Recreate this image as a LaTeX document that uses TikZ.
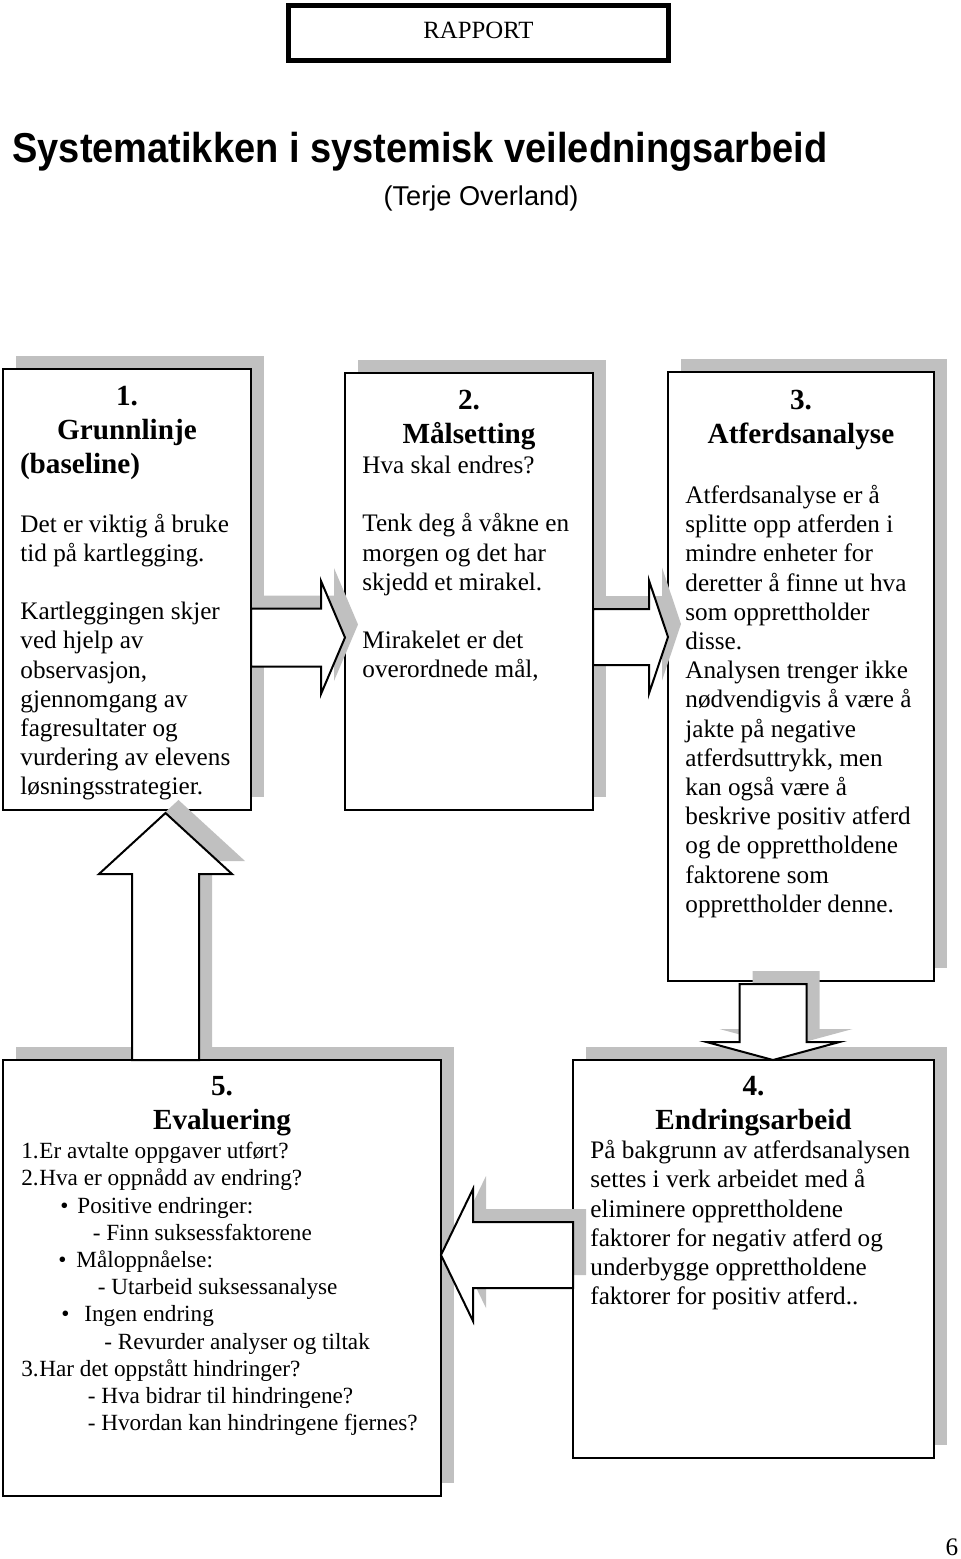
\documentclass[tikz,border=0pt]{standalone}
\usepackage{fontspec}
\usepackage{graphicx}
\setmainfont{Liberation Serif}
\newfontfamily\arialfont{Liberation Sans}
\usetikzlibrary{calc,shadows}

\definecolor{shadowgray}{RGB}{192,192,192}

\tikzset{
  shadowed/.style={drop shadow={shadow xshift=6.5pt, shadow yshift=6.5pt, opacity=1, fill=shadowgray}},
  stagebox/.style={draw, fill=white, line width=1pt, inner sep=0pt, outer sep=0pt, anchor=north west, shadowed},
  blockarrow/.style={draw, fill=white, line width=1pt, shadowed},
  heading/.style={font=\fontsize{14.6}{17}\selectfont\bfseries, align=center, inner sep=0pt, anchor=north},
  bodytext/.style={font=\fontsize{12.6}{14.6}\selectfont, align=left, inner sep=0pt, anchor=north west},
}

\begin{document}
\begin{tikzpicture}[x=0.5pt, y=-0.5pt]
  \useasboundingbox (0,0) rectangle (960,1559);

  \node[draw, line width=2.5pt, minimum width=190pt, minimum height=27.5pt, inner sep=0pt, text height=8.4pt, text depth=3pt, font=\fontsize{12.4}{15}\selectfont] (rapport) at (478.5,33) {RAPPORT};
  \node[font=\arialfont\bfseries\fontsize{19}{22}\selectfont, anchor=base west, inner sep=0pt] (title) at (12,162) {\scalebox{1}[1.1]{Systematikken i systemisk veiledningsarbeid}};
  \node[font=\arialfont\fontsize{13.6}{16}\selectfont, inner sep=0pt] (author) at (481,198) {(Terje Overland)};

  \node[stagebox, minimum width=124pt, minimum height=220.5pt] (grunnlinje) at (3,369) {};
  \node[stagebox, minimum width=124pt, minimum height=218.5pt] (malsetting) at (345,373) {};
  \node[stagebox, minimum width=133pt, minimum height=304.5pt] (atferd) at (668,372) {};
  \node[stagebox, minimum width=180.5pt, minimum height=199pt] (endring) at (573,1060) {};
  \node[stagebox, minimum width=219pt, minimum height=218pt] (evaluering) at (3,1060) {};

  \coordinate (s12) at ($(grunnlinje.north east)+(0,268.5)$);
  \coordinate (e12) at (malsetting.west |- s12);
  \draw[blockarrow] ($(s12)+(0,-29)$) -- ($(e12)+(-24,-29)$) -- ($(e12)+(-24,-56.5)$) -- (e12) -- ($(e12)+(-24,56.5)$) -- ($(e12)+(-24,29)$) -- ($(s12)+(0,29)$) -- cycle;

  \coordinate (s23) at ($(malsetting.north east)+(0,264)$);
  \coordinate (e23) at (atferd.west |- s23);
  \draw[blockarrow] ($(s23)+(0,-28)$) -- ($(e23)+(-19,-28)$) -- ($(e23)+(-19,-56.5)$) -- (e23) -- ($(e23)+(-19,56.5)$) -- ($(e23)+(-19,28)$) -- ($(s23)+(0,28)$) -- cycle;

  \coordinate (s34) at ($(atferd.south west)+(105,3)$);
  \coordinate (e34) at (s34 |- endring.north);
  \draw[blockarrow] ($(s34)+(-33.5,0)$) -- ($(e34)+(-33.5,-18)$) -- ($(e34)+(-66.5,-18)$) -- (e34) -- ($(e34)+(66.5,-18)$) -- ($(e34)+(33.5,-18)$) -- ($(s34)+(33.5,0)$) -- cycle;

  \coordinate (s45) at ($(endring.north west)+(0,195)$);
  \coordinate (e45) at (evaluering.east |- s45);
  \draw[blockarrow] ($(s45)+(0,-33)$) -- ($(e45)+(32,-33)$) -- ($(e45)+(32,-66)$) -- (e45) -- ($(e45)+(32,66)$) -- ($(e45)+(32,33)$) -- ($(s45)+(0,33)$) -- cycle;

  \coordinate (s51) at ($(evaluering.north west)+(162.5,0)$);
  \coordinate (e51) at ($(s51 |- grunnlinje.south)+(0,3)$);
  \draw[blockarrow] ($(s51)+(-33.5,0)$) -- ($(e51)+(-33.5,61)$) -- ($(e51)+(-66.5,61)$) -- (e51) -- ($(e51)+(66.5,61)$) -- ($(e51)+(33.5,61)$) -- ($(s51)+(33.5,0)$) -- cycle;

  \node[heading] (h1) at (127,381.2) {\strut 1.\\Grunnlinje\\\makebox[107pt][l]{(baseline)}};
  \node[bodytext] (t1) at (20,511.3) {\strut Det er viktig å bruke\\tid på kartlegging.\\[14.6pt]Kartleggingen skjer\\ved hjelp av\\observasjon,\\gjennomgang av\\fagresultater og\\vurdering av elevens\\løsningsstrategier.};

  \node[heading] (h2) at (469,385.2) {\strut 2.\\Målsetting};
  \node[bodytext] (t2) at (362,452.6) {\strut Hva skal endres?\\[14.6pt]Tenk deg å våkne en\\morgen og det har\\skjedd et mirakel.\\[14.6pt]Mirakelet er det\\overordnede mål,};

  \node[heading] (h3) at (801,385.2) {\strut 3.\\Atferdsanalyse};
  \node[bodytext] (t3) at (685,482.6) {\strut Atferdsanalyse er å\\splitte opp atferden i\\mindre enheter for\\deretter å finne ut hva\\som opprettholder\\disse.\\Analysen trenger ikke\\nødvendigvis å være å\\jakte på negative\\atferdsuttrykk, men\\kan også være å\\beskrive positiv atferd\\og de opprettholdene\\faktorene som\\opprettholder denne.};

  \node[heading] (h4) at (753.5,1071.2) {\strut 4.\\Endringsarbeid};
  \node[bodytext] (t4) at (590,1137.9) {\strut På bakgrunn av atferdsanalysen\\settes i verk arbeidet med å\\eliminere opprettholdene\\faktorer for negativ atferd og\\underbygge opprettholdene\\faktorer for positiv atferd..};

  \node[heading] (h5) at (222,1071.2) {\strut 5.\\Evaluering};
  \node[bodytext, font=\fontsize{11.6}{13.6}\selectfont] (t5) at (21,1139.3) {\strut\makebox[9pt][l]{1.}Er avtalte oppgaver utført?\\
    \makebox[9pt][l]{2.}Hva er oppnådd av endring?\\
    \hspace*{19.5pt}\makebox[8.5pt][l]{\textbullet}Positive endringer:\\
    \hspace*{35.7pt}- Finn suksessfaktorene\\
    \hspace*{18.5pt}\makebox[9pt][l]{\textbullet}Måloppnåelse:\\
    \hspace*{38.2pt}- Utarbeid suksessanalyse\\
    \hspace*{20pt}\makebox[11.5pt][l]{\textbullet}Ingen endring\\
    \hspace*{41.5pt}- Revurder analyser og tiltak\\
    \makebox[9pt][l]{3.}Har det oppstått hindringer?\\
    \hspace*{33.2pt}- Hva bidrar til hindringene?\\
    \hspace*{33.2pt}- Hvordan kan hindringene fjernes?};

  \node[font=\fontsize{12.6}{15}\selectfont, anchor=base, inner sep=0pt] (pagenr) at (952,1555) {6};
\end{tikzpicture}
\end{document}
